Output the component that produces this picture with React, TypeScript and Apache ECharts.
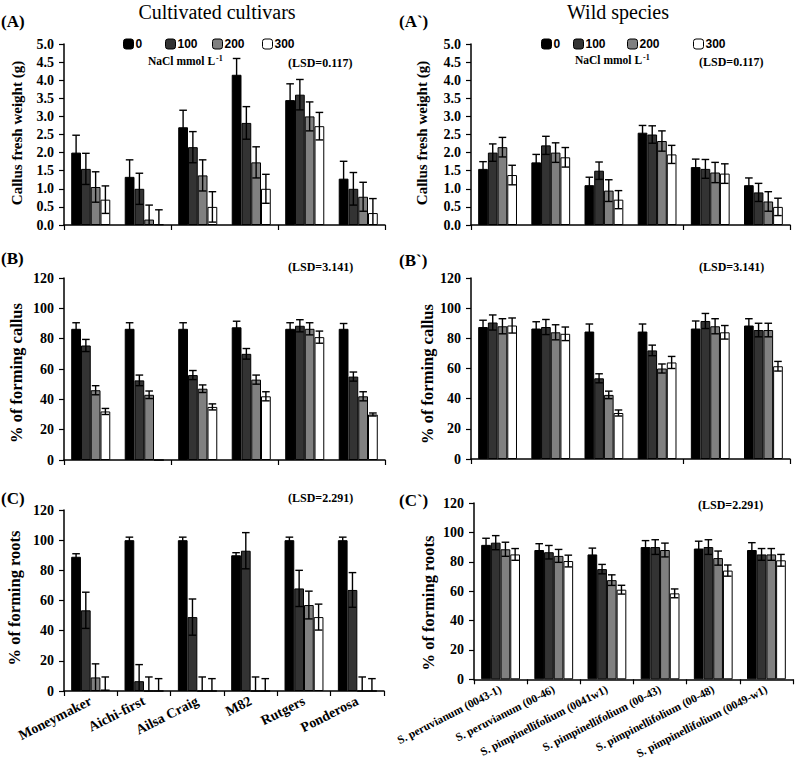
import React, { useEffect, useRef } from "react";
import * as echarts from "echarts";

const cultivars = ["Moneymaker", "Aichi-first", "Ailsa Craig", "M82", "Rutgers", "Ponderosa"];
const wildSpecies = [
  "S. peruvianum (0043-1)",
  "S. peruvianum (00-46)",
  "S. pimpinellifolium (0041w1)",
  "S. pimpinellifolium (00-43)",
  "S. pimpinellifolium (00-48)",
  "S. pimpinellifolium (0049-w1)",
];
const levels = ["0", "100", "200", "300"];
const levelColors = ["#000000", "#333333", "#808080", "#ffffff"];

// (A) Callus fresh weight, cultivated
const A_0 = [2.0, 1.33, 2.7, 4.15, 3.45, 1.28];
const A_100 = [1.55, 1.0, 2.15, 2.82, 3.6, 1.0];
const A_200 = [1.05, 0.15, 1.37, 1.73, 3.0, 0.78];
const A_300 = [0.7, 0.02, 0.5, 1.0, 2.73, 0.33];
const A_0e = [0.48, 0.47, 0.47, 0.45, 0.45, 0.48];
const A_100e = [0.43, 0.43, 0.43, 0.45, 0.42, 0.45];
const A_200e = [0.42, 0.4, 0.43, 0.43, 0.4, 0.4];
const A_300e = [0.38, 0.4, 0.42, 0.4, 0.38, 0.4];

// (A`) Callus fresh weight, wild
const Aw_0 = [1.55, 1.73, 1.1, 2.55, 1.6, 1.1];
const Aw_100 = [2.0, 2.2, 1.5, 2.5, 1.55, 0.9];
const Aw_200 = [2.15, 2.0, 0.95, 2.32, 1.45, 0.65];
const Aw_300 = [1.38, 1.87, 0.7, 1.95, 1.42, 0.5];
const Aw_0e = [0.2, 0.22, 0.22, 0.2, 0.22, 0.2];
const Aw_100e = [0.24, 0.25, 0.24, 0.24, 0.26, 0.25];
const Aw_200e = [0.27, 0.27, 0.3, 0.28, 0.28, 0.27];
const Aw_300e = [0.27, 0.27, 0.25, 0.25, 0.27, 0.24];

// (B) % of forming callus, cultivated
const B_0 = [86.5, 86.5, 86.5, 87.5, 86.5, 86.5];
const B_100 = [75.5, 52.5, 56, 70, 88.5, 55];
const B_200 = [46, 43, 47, 53, 86.5, 42];
const B_300 = [32, 0, 35, 42, 81, 30];
const B_0e = [4, 4, 4, 4, 4, 3.5];
const B_100e = [4, 3.5, 3, 3.5, 4, 3];
const B_200e = [3, 2.5, 2.5, 3, 4, 3];
const B_300e = [2, 0, 2, 3, 4, 1];

// (B`) % of forming callus, wild
const Bw_0 = [87.5, 86.5, 84.5, 84.5, 86.5, 88.5];
const Bw_100 = [90.5, 87.5, 53.5, 72, 91.5, 85.5];
const Bw_200 = [88, 84, 42.5, 60, 88, 85.5];
const Bw_300 = [88.5, 83, 30.5, 64, 84, 61.5];
const Bw_0e = [4.5, 4.5, 5, 5, 5, 4.5];
const Bw_100e = [5, 5, 3, 3.5, 5, 4.5];
const Bw_200e = [5, 5, 2.5, 3, 5, 4.5];
const Bw_300e = [5, 4.5, 2, 4, 4.5, 3.2];

// (C) % of forming roots, cultivated
const C_0 = [89, 100, 100, 90, 100, 100];
const C_100 = [53.5, 6.5, 49, 93, 68, 67];
const C_200 = [9, 0, 0, 0, 57, 0];
const C_300 = [1, 0, 0, 0, 49, 0];
const C_0e = [2, 2, 2, 1.7, 2, 2];
const C_100e = [12, 11, 12, 12, 12, 11.5];
const C_200e = [9, 9.3, 9.3, 9.3, 9.2, 9.3];
const C_300e = [8.3, 8.2, 8.2, 8.2, 8.6, 8.2];

// (C`) % of forming roots, wild
const Cw_0 = [91.5, 88, 85, 90, 89, 88];
const Cw_100 = [93, 86.5, 75, 90, 90, 85];
const Cw_200 = [88.5, 84, 67.5, 88, 82.5, 85];
const Cw_300 = [85, 80.5, 61, 58.5, 74, 81];
const Cw_0e = [4.5, 4.3, 4.3, 4.4, 5, 5];
const Cw_100e = [4.8, 4.6, 3.2, 5, 5, 4];
const Cw_200e = [4.8, 4.4, 3.6, 4.7, 4.8, 4];
const Cw_300e = [4, 4, 3, 3, 3.8, 4];

const weightTicks = { min: 0, max: 5, interval: 0.5 };
const percentTicks = { min: 0, max: 120, interval: 20 };

const SERIF = "'Liberation Serif', 'Times New Roman', serif";
const SANS = "'Liberation Sans', Arial, sans-serif";
const GAP = 0.27;

const panels = [
  { cats: cultivars, vals: [A_0, A_100, A_200, A_300], errs: [A_0e, A_100e, A_200e, A_300e], ticks: weightTicks, dec: 1, showCats: false,
    grid: { left: 64, top: 44, width: 321, height: 181 } },
  { cats: wildSpecies, vals: [Aw_0, Aw_100, Aw_200, Aw_300], errs: [Aw_0e, Aw_100e, Aw_200e, Aw_300e], ticks: weightTicks, dec: 1, showCats: false,
    grid: { left: 471, top: 44, width: 319, height: 181 } },
  { cats: cultivars, vals: [B_0, B_100, B_200, B_300], errs: [B_0e, B_100e, B_200e, B_300e], ticks: percentTicks, dec: 0, showCats: false,
    grid: { left: 64, top: 278, width: 321, height: 182 } },
  { cats: wildSpecies, vals: [Bw_0, Bw_100, Bw_200, Bw_300], errs: [Bw_0e, Bw_100e, Bw_200e, Bw_300e], ticks: percentTicks, dec: 0, showCats: false,
    grid: { left: 471, top: 278, width: 319, height: 181 } },
  { cats: cultivars, vals: [C_0, C_100, C_200, C_300], errs: [C_0e, C_100e, C_200e, C_300e], ticks: percentTicks, dec: 0, showCats: true, catFont: 14,
    grid: { left: 64, top: 510, width: 320, height: 181 } },
  { cats: wildSpecies, vals: [Cw_0, Cw_100, Cw_200, Cw_300], errs: [Cw_0e, Cw_100e, Cw_200e, Cw_300e], ticks: percentTicks, dec: 0, showCats: true, catFont: 11.5,
    grid: { left: 474, top: 503, width: 319, height: 180 } },
];

function buildOption() {
  const grids: any[] = [];
  const xAxes: any[] = [];
  const yAxes: any[] = [];
  const series: any[] = [];

  panels.forEach((p, pi) => {
    grids.push({ ...p.grid, containLabel: false });
    xAxes.push({
      type: "category",
      gridIndex: pi,
      data: p.cats,
      axisLine: { show: true, lineStyle: { color: "#000", width: 1.5 } },
      axisTick: { show: true, inside: false, length: 5, lineStyle: { color: "#000", width: 1.2 } },
      axisLabel: p.showCats
        ? { show: true, interval: 0, rotate: 27, margin: 9, color: "#000", fontFamily: SERIF, fontWeight: "bold", fontSize: p.catFont }
        : { show: false },
      splitLine: { show: false },
    });
    yAxes.push({
      type: "value",
      gridIndex: pi,
      min: p.ticks.min,
      max: p.ticks.max,
      interval: p.ticks.interval,
      axisLine: { show: true, lineStyle: { color: "#000", width: 1.5 } },
      axisTick: { show: true, inside: false, length: 5, lineStyle: { color: "#000", width: 1.2 } },
      axisLabel: {
        show: true,
        margin: 10,
        color: "#000",
        fontFamily: SERIF,
        fontWeight: "bold",
        fontSize: 14,
        formatter: (v: number) => v.toFixed(p.dec),
      },
      splitLine: { show: false },
    });

    levels.forEach((lv, li) => {
      series.push({
        type: "bar",
        name: lv,
        xAxisIndex: pi,
        yAxisIndex: pi,
        data: p.vals[li],
        barGap: "0%",
        barCategoryGap: GAP * 100 + "%",
        itemStyle: { color: levelColors[li], borderColor: "#000", borderWidth: 1 },
        emphasis: { disabled: true },
        z: 2,
      });
    });

    const errData: number[][] = [];
    levels.forEach((_, li) => {
      p.cats.forEach((_, ci) => {
        errData.push([ci, li, p.vals[li][ci], p.errs[li][ci]]);
      });
    });

    series.push({
      type: "custom",
      name: "err" + pi,
      xAxisIndex: pi,
      yAxisIndex: pi,
      data: errData,
      z: 5,
      silent: true,
      renderItem: (params: any, api: any) => {
        const ci = api.value(0);
        const li = api.value(1);
        const v = api.value(2);
        const e = api.value(3);
        if (!e) return { type: "group", children: [] };
        const band = api.size([1, 0])[0];
        const w = (band * (1 - GAP)) / 4;
        const cx = api.coord([ci, v])[0] + (li - 1.5) * w;
        const yTop = api.coord([ci, v + e])[1];
        const lowVal = Math.max(0, v - e);
        const yBot = api.coord([ci, lowVal])[1];
        const cap = 3.8;
        const st = { stroke: "#000", lineWidth: 1.4 };
        const children: any[] = [
          { type: "line", shape: { x1: cx, y1: yTop, x2: cx, y2: yBot }, style: st },
          { type: "line", shape: { x1: cx - cap, y1: yTop, x2: cx + cap, y2: yTop }, style: st },
        ];
        if (v - e > 0) {
          children.push({ type: "line", shape: { x1: cx - cap, y1: yBot, x2: cx + cap, y2: yBot }, style: st });
        }
        return { type: "group", children };
      },
    });
  });

  const legendPos = [
    [123, 38], [165, 38], [212, 38], [262, 38],
    [541, 38], [573, 38], [627, 38], [693, 38],
  ];
  const legends = legendPos.map((pos, k) => ({
    data: [levels[k % 4]],
    left: pos[0],
    top: pos[1],
    padding: 0,
    itemWidth: 10,
    itemHeight: 10,
    selectedMode: false,
    itemStyle: { borderColor: "#000", borderWidth: 1 },
    textStyle: { fontFamily: SANS, fontSize: 12, fontWeight: "bold", color: "#000", padding: [0, 0, 0, -3] },
  }));

  const txt = (x: number, y: number, text: string, font: number, bold: boolean, align = "left", extra: any = {}) => ({
    type: "text",
    x,
    y,
    style: {
      text,
      fontFamily: SERIF,
      fontSize: font,
      fontWeight: bold ? "bold" : "normal",
      fill: "#000",
      textAlign: align,
      textVerticalAlign: "middle",
      ...extra,
    },
  });

  const yName = (x: number, y: number, text: string, font: number) => ({
    type: "text",
    x,
    y,
    rotation: Math.PI / 2,
    style: {
      text,
      fontFamily: SERIF,
      fontSize: font,
      fontWeight: "bold",
      fill: "#000",
      textAlign: "center",
      textVerticalAlign: "middle",
    },
  });

  const naclRich = {
    rich: {
      b: { fontFamily: SERIF, fontSize: 11.5, fontWeight: "bold", fill: "#000" },
      sup: { fontFamily: SERIF, fontSize: 8, fontWeight: "bold", fill: "#000", verticalAlign: "top", padding: [0, 0, 6, 1] },
    },
  };

  const graphics: any[] = [
    txt(217, 12, "Cultivated cultivars", 20, false, "center"),
    txt(618, 12, "Wild species", 20, false, "center"),
    txt(1, 21, "(A)", 17, true),
    txt(399, 21, "(A`)", 17, true),
    txt(1, 258, "(B)", 17, true),
    txt(399, 260, "(B`)", 17, true),
    txt(1, 498, "(C)", 17, true),
    txt(399, 500, "(C`)", 17, true),
    txt(288, 63, "(LSD=0.117)", 12, true),
    txt(699, 62, "(LSD=0.117)", 12, true),
    txt(288, 267, "(LSD=3.141)", 12, true),
    txt(699, 267, "(LSD=3.141)", 12, true),
    txt(288, 498, "(LSD=2.291)", 12, true),
    txt(698, 505, "(LSD=2.291)", 12, true),
    {
      type: "text", x: 148, y: 61,
      style: { text: "{b|NaCl mmol L}{sup|-1}", textVerticalAlign: "middle", ...naclRich },
    },
    {
      type: "text", x: 575, y: 60,
      style: { text: "{b|NaCl mmol L}{sup|-1}", textVerticalAlign: "middle", ...naclRich },
    },
    yName(17, 133, "Callus fresh weight (g)", 15),
    yName(422, 133, "Callus fresh weight (g)", 15),
    yName(16, 373, "% of forming callus", 16.5),
    yName(427, 374, "% of forming callus", 16.5),
    yName(14, 598, "% of forming roots", 16.5),
    yName(428, 603, "% of forming roots", 16.5),
  ];

  return {
    animation: false,
    backgroundColor: "#ffffff",
    textStyle: { fontFamily: SERIF },
    grid: grids,
    xAxis: xAxes,
    yAxis: yAxes,
    legend: legends,
    series,
    graphic: graphics,
  };
}

export default function App() {
  const ref = useRef<HTMLDivElement>(null);
  useEffect(() => {
    if (!ref.current) return;
    const chart = echarts.init(ref.current, null, { renderer: "svg" });
    chart.setOption(buildOption() as any);
    return () => chart.dispose();
  }, []);
  return (
    <div
      ref={ref}
      style={{ position: "fixed", left: 0, top: 0, width: 796, height: 761, background: "#fff" }}
    />
  );
}
